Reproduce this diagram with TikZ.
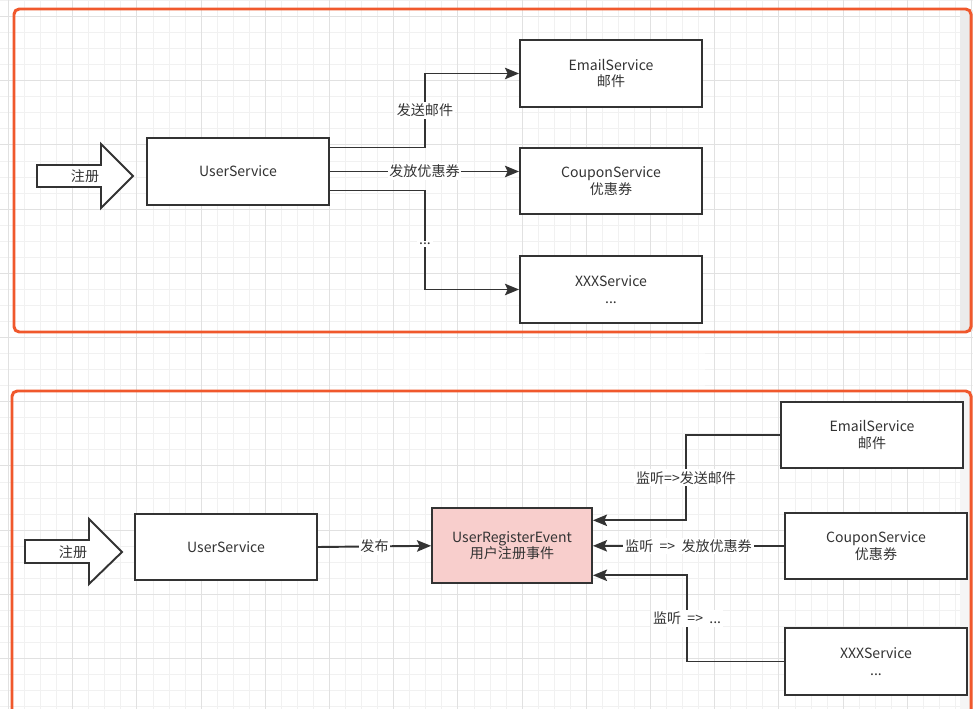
\documentclass[tikz,border=0pt]{standalone}
\usepackage{fontspec}
\setmainfont{Noto Sans CJK SC}
\usetikzlibrary{arrows.meta}
\definecolor{keretszin}{RGB}{240,88,44}
\definecolor{esemenyszin}{RGB}{248,206,204}
\definecolor{tinta}{RGB}{51,51,51}
\definecolor{racsfino}{RGB}{241,241,241}
\definecolor{racsvastag}{RGB}{225,225,225}

\begin{document}
\begin{tikzpicture}[x=.02cm, y=-.02cm, >={Stealth[length=8pt, width=6.5pt, inset=1.5pt]},
font=\fontsize{8}{9.5}\selectfont,
szolg/.style={draw=tinta, line width=1.1pt, fill=white, minimum width=3.64cm, minimum height=1.33cm, align=center, text=tinta, inner sep=0},
esemeny/.style={szolg, fill=esemenyszin, minimum width=3.2cm, minimum height=1.5cm},
nyil/.style={draw=tinta, line width=1.1pt, fill=white, line join=miter},
kapcs/.style={->, draw=tinta, line width=1.1pt},
felirat/.style={fill=white, inner sep=1pt, text=tinta},
keret/.style={draw=keretszin, line width=1.7pt, rounded corners=3pt},
racs/.style={racsfino, line width=.5pt},
racsv/.style={racsvastag, line width=.6pt}]
\useasboundingbox (0,0) rectangle (973,709);
\clip (0,0) rectangle (973,709);
\fill[white] (0,0) rectangle (973,709);
\foreach \i in {0,...,60} \draw[racs] ({8.5+16.05*\i},0) -- ++(0,709);
\foreach \i in {0,...,44} \draw[racs] (0,{0.45+16.05*\i}) -- ++(973,0);
\foreach \i in {0,...,15} \draw[racsv] ({8.5+64.2*\i},0) -- ++(0,709);
\foreach \i in {0,...,10} \draw[racsv] (0,{16.5+64.2*\i}) -- ++(973,0);
\fill[white, fill opacity=.55] (393,339) rectangle (705,390);
\fill[black!8] (960,10) rectangle (973,331);
\fill[black!4] (960,393) rectangle (973,709);
\draw[keret] (14,9) rectangle (971,332);
\draw[keret] (12,391) rectangle (971,730);
%%%%%%%%%% direct calls %%%%%%%%%%%
\draw[nyil] (37,165) -- (101,165) -- (101,144) -- (133,176) -- (101,208) -- (101,187) -- (37,187) -- cycle;
\node[text=tinta] (reg1) at (85,176) {注册};
\node[szolg] (us1) at (238,171.5) {UserService};
\node[szolg] (email1) at (611,73.5) {EmailService\\邮件};
\node[szolg] (coupon1) at (611,181) {CouponService\\优惠券};
\node[szolg] (xxx1) at (611,289.5) {XXXService\\...};
\draw[kapcs] ([yshift=.48cm]us1.east) -- ++(95,0) |- (email1.west) node[pos=.25, felirat] {发送邮件};
\draw[kapcs] (us1.east) -- (us1.east -| coupon1.west) node[midway, felirat] {发放优惠券};
\draw[kapcs] ([yshift=-.38cm]us1.east) -- ++(95,0) |- (xxx1.west) node[pos=.27, felirat] {...};
%%%%%%%%%% event listeners %%%%%%%%%%%
\draw[nyil] (25,540) -- (89,540) -- (89,519) -- (122,552) -- (89,584) -- (89,563) -- (25,563) -- cycle;
\node[text=tinta] (reg2) at (73,552) {注册};
\node[szolg] (us2) at (226,547) {UserService};
\node[esemeny] (event) at (512,545.8) {UserRegisterEvent\\用户注册事件};
\node[szolg] (email2) at (872,435) {EmailService\\邮件};
\node[szolg] (coupon2) at (876,546) {CouponService\\优惠券};
\node[szolg] (xxx2) at (876,661.5) {XXXService\\...};
\draw[kapcs] (us2.east) -- (event.west) node[midway, felirat] {发布};
\draw[kapcs] (email2.west) -- ++(-94,0) |- ([yshift=.51cm]event.east) node[pos=.25, felirat] {监听=>发送邮件};
\draw[kapcs] (coupon2.west) -- (event.east) node[midway, felirat] {监听 \ => \ 发放优惠券};
\draw[kapcs] (xxx2.west) -- ++(-97,0) |- ([yshift=-.59cm]event.east) node[pos=.25, felirat] {监听 \ => \ ...};
\end{tikzpicture}
\end{document}
